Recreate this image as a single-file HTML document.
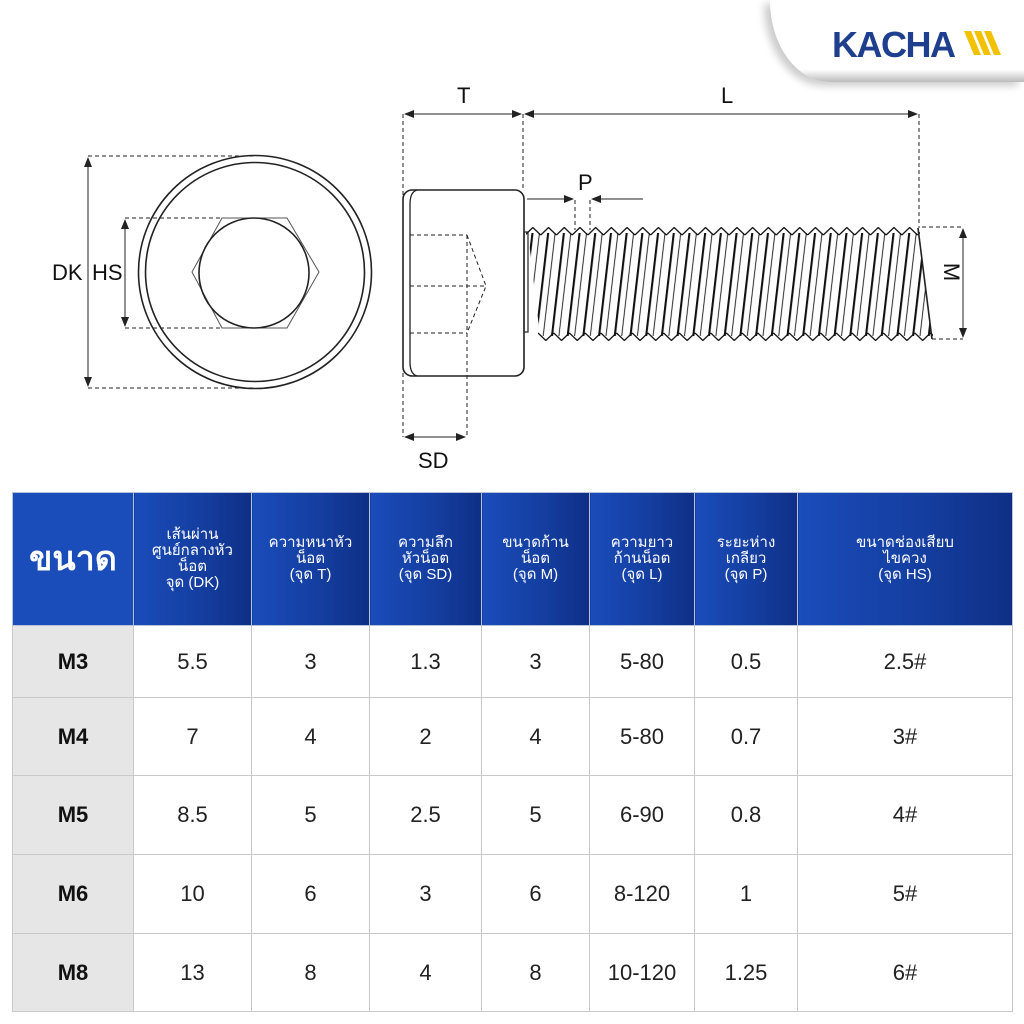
<!DOCTYPE html>
<html><head><meta charset="utf-8"><style>
body{margin:0;width:1024px;height:1024px;background:#fff;position:relative;overflow:hidden;font-family:"Liberation Sans","DejaVu Sans",sans-serif}
svg{position:absolute;left:0;top:0}
table{position:absolute;left:12px;top:492px;border-collapse:collapse;width:1000px;table-layout:fixed}
td,th{border:1.5px solid #c9c9c9;text-align:center;padding:0}
th{background:linear-gradient(90deg,#1a4cba,#143d9e 60%,#0f2f86);color:#fff;font-size:15px;font-weight:normal;line-height:16px;height:132px;border-color:#b8c2d8}
th.big{font-size:34px;font-weight:bold;background:#1a4cba}
td{font-size:22px;color:#222}
td.m{background:#e6e6e6;font-weight:bold;color:#111}
</style></head><body>
<div style="position:absolute;left:770px;top:0;width:254px;height:82px;background:linear-gradient(180deg,#fff 85%,#bbb);border-bottom-left-radius:60px 82px;box-shadow:-6px 4px 8px rgba(0,0,0,.2)"></div>
<div style="position:absolute;left:832px;top:24px;font-size:36px;font-weight:bold;color:#1d3f8e;letter-spacing:-1.5px">KACHA</div>
<svg width="1024" height="1024" style="position:absolute">
<polygon points="964,31 971,31 981,55 974,55" fill="#f2c200"/>
<polygon points="974,31 981,31 991,55 984,55" fill="#f2c200"/>
<polygon points="984,31 991,31 1001,55 994,55" fill="#f2c200"/>
</svg>
<svg width="1024" height="490">
<defs>
<marker id="a" markerWidth="10" markerHeight="8" refX="9" refY="4" orient="auto-start-reverse"><path d="M0,0 L10,4 L0,8 Z" fill="#222"/></marker>
<pattern id="th" patternUnits="userSpaceOnUse" x="527" y="0" width="15.7" height="400" patternTransform="skewX(-6.6)">
<line x1="1" y1="0" x2="1" y2="400" stroke="#111" stroke-width="2.2"/>
<line x1="8" y1="0" x2="8" y2="400" stroke="#111" stroke-width="0.9"/>
</pattern>
<pattern id="zt" patternUnits="userSpaceOnUse" x="525" y="227" width="15.7" height="9">
<path d="M0,8 L7.85,0.5 L15.7,8" fill="none" stroke="#111" stroke-width="1.3"/>
</pattern>
<pattern id="zb" patternUnits="userSpaceOnUse" x="538" y="332" width="15.7" height="9">
<path d="M0,1 L7.85,8.5 L15.7,1" fill="none" stroke="#111" stroke-width="1.3"/>
</pattern>
</defs>
<g fill="none" stroke="#222" stroke-width="1.2">
<circle cx="255" cy="272" r="116.5" stroke-width="1.6"/>
<circle cx="255" cy="272" r="109.5" stroke-width="1.6"/>
<polygon points="222,218 287,218 319,272 287,328 222,328 192,272" stroke="#555" stroke-width="1"/>
<circle cx="254" cy="273" r="55" stroke-width="1.6"/>
<g stroke-dasharray="4,3" stroke-width="1">
<line x1="88" y1="156" x2="255" y2="156"/><line x1="88" y1="388" x2="255" y2="388"/>
<line x1="125" y1="218" x2="222" y2="218"/><line x1="125" y1="328" x2="222" y2="328"/>
</g>
<line x1="88" y1="158" x2="88" y2="386" marker-start="url(#a)" marker-end="url(#a)" stroke-width="1"/>
<line x1="125" y1="220" x2="125" y2="326" marker-start="url(#a)" marker-end="url(#a)" stroke-width="1"/>
<rect x="403" y="190" width="121" height="186" rx="9" stroke-width="1.6"/>
<path d="M417,190 Q410,192 410,204 L410,362 Q410,374 417,376" stroke-width="1.3"/>
<g stroke-dasharray="4,3" stroke-width="1">
<line x1="410" y1="235" x2="467" y2="235"/><line x1="410" y1="286" x2="486" y2="286"/><line x1="410" y1="333" x2="467" y2="333"/>
<polyline points="467,235 486,286 467,333"/>
<line x1="467" y1="235" x2="467" y2="437"/>
<line x1="403" y1="114" x2="403" y2="437"/>
<line x1="523" y1="114" x2="523" y2="190"/>
<line x1="919" y1="114" x2="919" y2="228"/>
<line x1="575" y1="200" x2="575" y2="230"/><line x1="590" y1="200" x2="590" y2="230"/>
<line x1="922" y1="227" x2="963" y2="227"/><line x1="932" y1="339" x2="963" y2="339"/>
</g>
<line x1="405" y1="114" x2="521" y2="114" marker-start="url(#a)" marker-end="url(#a)" stroke-width="1"/>
<line x1="525" y1="114" x2="917" y2="114" marker-start="url(#a)" marker-end="url(#a)" stroke-width="1"/>
<line x1="405" y1="437" x2="465" y2="437" marker-start="url(#a)" marker-end="url(#a)" stroke-width="1"/>
<line x1="963" y1="229" x2="963" y2="337" marker-start="url(#a)" marker-end="url(#a)" stroke-width="1"/>
<line x1="527" y1="199" x2="573" y2="199" marker-end="url(#a)" stroke-width="1"/>
<line x1="643" y1="199" x2="592" y2="199" marker-end="url(#a)" stroke-width="1"/>
<rect x="524" y="232" width="4" height="100" stroke-width="1.2"/>
<polygon points="528,233 918,233 932,336 540,336" fill="url(#th)" stroke="none"/>
<rect x="526" y="227" width="394" height="9" fill="url(#zt)" stroke="none"/>
<rect x="538" y="332" width="395" height="9" fill="url(#zb)" stroke="none"/>
<line x1="918" y1="228" x2="932" y2="339" stroke-width="1.6"/>
</g>
<g font-size="22" fill="#111" font-family="Liberation Sans,sans-serif">
<text x="52" y="280">DK</text><text x="92" y="280">HS</text>
<text x="457" y="103">T</text><text x="721" y="103">L</text>
<text x="578" y="190">P</text>
<text x="418" y="468">SD</text>
<text transform="translate(944,272) rotate(90)" text-anchor="middle">M</text>
</g>
</svg>
<table>
<colgroup><col style="width:121px"><col style="width:118px"><col style="width:118px"><col style="width:112px"><col style="width:108px"><col style="width:105px"><col style="width:103px"><col style="width:215px"></colgroup>
<tr><th class="big">ขนาด</th><th>เส้นผ่าน<br>ศูนย์กลางหัว<br>น็อต<br>จุด (DK)</th><th>ความหนาหัว<br>น็อต<br>(จุด T)</th><th>ความลึก<br>หัวน็อต<br>(จุด SD)</th><th>ขนาดก้าน<br>น็อต<br>(จุด M)</th><th>ความยาว<br>ก้านน็อต<br>(จุด L)</th><th>ระยะห่าง<br>เกลียว<br>(จุด P)</th><th>ขนาดช่องเสียบ<br>ไขควง<br>(จุด HS)</th></tr>
<tr style="height:72px"><td class="m">M3</td><td>5.5</td><td>3</td><td>1.3</td><td>3</td><td>5-80</td><td>0.5</td><td>2.5#</td></tr>
<tr style="height:78px"><td class="m">M4</td><td>7</td><td>4</td><td>2</td><td>4</td><td>5-80</td><td>0.7</td><td>3#</td></tr>
<tr style="height:79px"><td class="m">M5</td><td>8.5</td><td>5</td><td>2.5</td><td>5</td><td>6-90</td><td>0.8</td><td>4#</td></tr>
<tr style="height:79px"><td class="m">M6</td><td>10</td><td>6</td><td>3</td><td>6</td><td>8-120</td><td>1</td><td>5#</td></tr>
<tr style="height:78px"><td class="m">M8</td><td>13</td><td>8</td><td>4</td><td>8</td><td>10-120</td><td>1.25</td><td>6#</td></tr>
</table>
</body></html>
